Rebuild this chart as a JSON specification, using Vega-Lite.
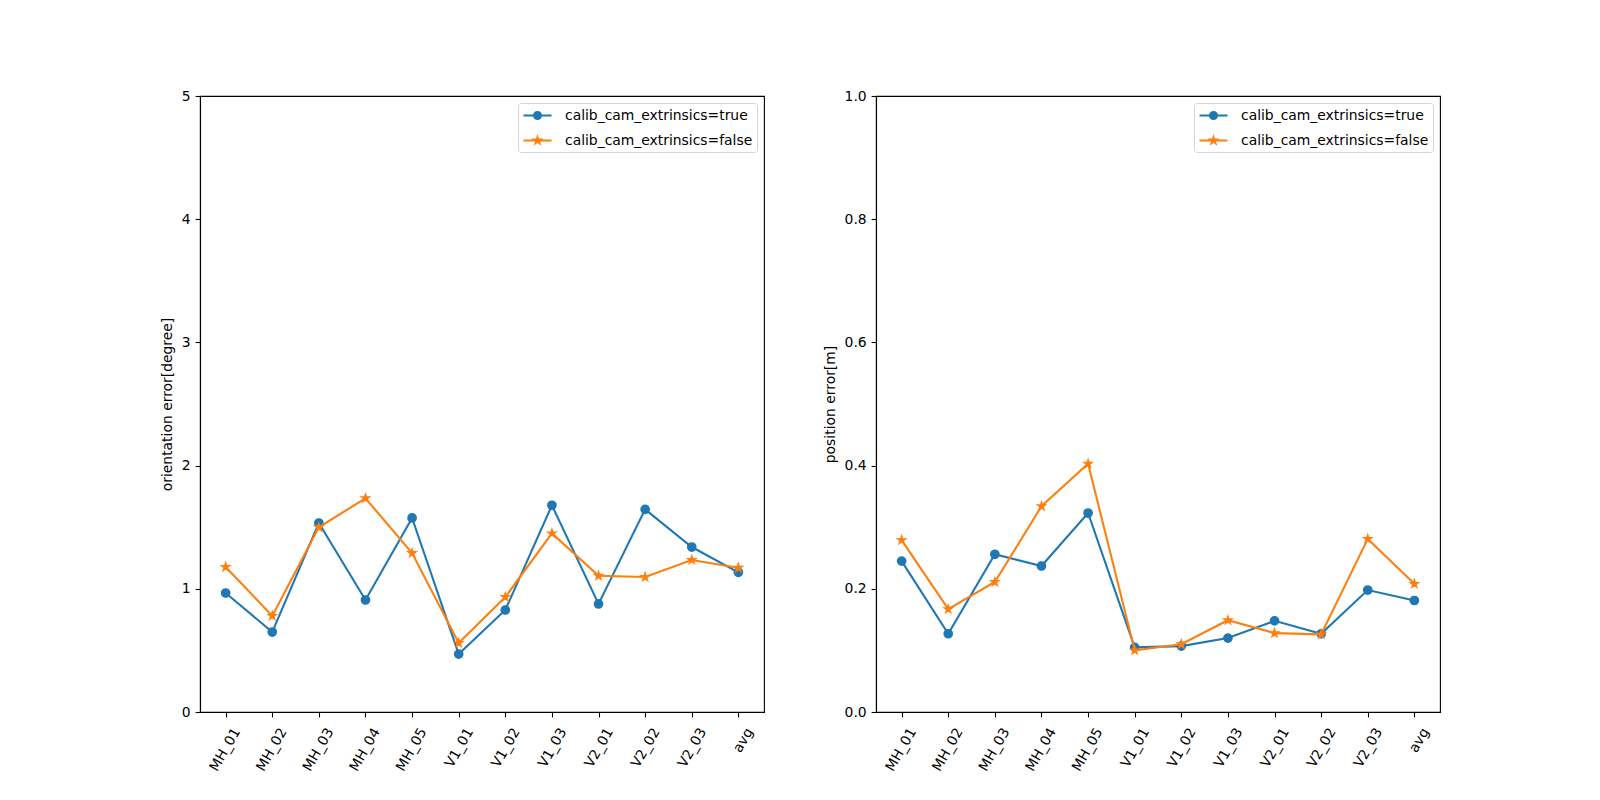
{
  "$schema": "https://vega.github.io/schema/vega-lite/v6.json",
  "autosize": {"type": "none"},
  "padding": {"left": 200, "top": 96, "right": 1400, "bottom": 88},
  "background": "white",
  "datasets": {
    "err": [
      {"seq": "MH_01", "series": "calib_cam_extrinsics=true", "orientation": 0.966, "position": 0.245},
      {"seq": "MH_02", "series": "calib_cam_extrinsics=true", "orientation": 0.649, "position": 0.127},
      {"seq": "MH_03", "series": "calib_cam_extrinsics=true", "orientation": 1.534, "position": 0.256},
      {"seq": "MH_04", "series": "calib_cam_extrinsics=true", "orientation": 0.909, "position": 0.237},
      {"seq": "MH_05", "series": "calib_cam_extrinsics=true", "orientation": 1.575, "position": 0.323},
      {"seq": "V1_01", "series": "calib_cam_extrinsics=true", "orientation": 0.470, "position": 0.105},
      {"seq": "V1_02", "series": "calib_cam_extrinsics=true", "orientation": 0.828, "position": 0.107},
      {"seq": "V1_03", "series": "calib_cam_extrinsics=true", "orientation": 1.678, "position": 0.120},
      {"seq": "V2_01", "series": "calib_cam_extrinsics=true", "orientation": 0.877, "position": 0.148},
      {"seq": "V2_02", "series": "calib_cam_extrinsics=true", "orientation": 1.645, "position": 0.127},
      {"seq": "V2_03", "series": "calib_cam_extrinsics=true", "orientation": 1.339, "position": 0.198},
      {"seq": "avg", "series": "calib_cam_extrinsics=true", "orientation": 1.134, "position": 0.181},
      {"seq": "MH_01", "series": "calib_cam_extrinsics=false", "orientation": 1.177, "position": 0.279},
      {"seq": "MH_02", "series": "calib_cam_extrinsics=false", "orientation": 0.780, "position": 0.167},
      {"seq": "MH_03", "series": "calib_cam_extrinsics=false", "orientation": 1.499, "position": 0.211},
      {"seq": "MH_04", "series": "calib_cam_extrinsics=false", "orientation": 1.735, "position": 0.334},
      {"seq": "MH_05", "series": "calib_cam_extrinsics=false", "orientation": 1.290, "position": 0.403},
      {"seq": "V1_01", "series": "calib_cam_extrinsics=false", "orientation": 0.560, "position": 0.100},
      {"seq": "V1_02", "series": "calib_cam_extrinsics=false", "orientation": 0.933, "position": 0.110},
      {"seq": "V1_03", "series": "calib_cam_extrinsics=false", "orientation": 1.450, "position": 0.149},
      {"seq": "V2_01", "series": "calib_cam_extrinsics=false", "orientation": 1.106, "position": 0.128},
      {"seq": "V2_02", "series": "calib_cam_extrinsics=false", "orientation": 1.096, "position": 0.126},
      {"seq": "V2_03", "series": "calib_cam_extrinsics=false", "orientation": 1.234, "position": 0.281},
      {"seq": "avg", "series": "calib_cam_extrinsics=false", "orientation": 1.171, "position": 0.208}
    ]
  },
  "data": {"name": "err"},
  "hconcat": [
    {
      "width": 564,
      "height": 616,
      "encoding": {
        "x": {"field": "seq", "type": "nominal", "sort": null, "title": null,
              "scale": {"type": "point", "padding": 0.55}},
        "y": {"field": "orientation", "type": "quantitative", "title": "orientation error[degree]",
              "scale": {"domain": [0, 5], "nice": false, "zero": true},
              "axis": {"values": [0, 1, 2, 3, 4, 5], "format": "d"}},
        "color": {"field": "series", "type": "nominal",
                  "scale": {"domain": ["calib_cam_extrinsics=true", "calib_cam_extrinsics=false"], "range": ["#1f77b4", "#ff7f0e"]},
                  "legend": {
                    "title": null, "orient": "top-right", "offset": 7, "padding": 4,
                    "strokeColor": "#d6d6d6", "fillColor": "white", "cornerRadius": 3,
                    "symbolSize": 196, "symbolOffset": 7, "labelOffset": 19, "rowPadding": 8,
                    "labelFont": "DejaVu Sans", "labelFontSize": 13.9, "labelColor": "black", "labelLimit": 400,
                    "encode": {"symbols": {"update": {
                      "shape": {"signal": "datum.value == 'calib_cam_extrinsics=true' ? 'M-2,0H2M0.5,0A0.5,0.5,0,1,1,-0.5,0A0.5,0.5,0,1,1,0.5,0Z' : 'M-2,0H2M0,-0.45L-0.101,-0.139L-0.428,-0.139L-0.163,0.053L-0.265,0.364L0,0.172L0.265,0.364L0.163,0.053L0.428,-0.139L0.101,-0.139Z'"},
                      "fill": {"signal": "datum.value == 'calib_cam_extrinsics=true' ? '#1f77b4' : '#ff7f0e'"},
                      "stroke": {"signal": "datum.value == 'calib_cam_extrinsics=true' ? '#1f77b4' : '#ff7f0e'"},
                      "strokeWidth": {"value": 2.08},
                      "opacity": {"value": 1}
                    }}}
                  }}
      },
      "layer": [
        {
          "transform": [{"filter": "datum.series == 'calib_cam_extrinsics=true'"}],
          "mark": {"type": "line", "strokeWidth": 2.08}
        },
        {
          "transform": [{"filter": "datum.series == 'calib_cam_extrinsics=true'"}],
          "mark": {"type": "point", "filled": true, "size": 69, "strokeWidth": 1.4, "opacity": 1, "shape": "circle", "fill": "#1f77b4", "stroke": "#1f77b4"}
        },
        {
          "transform": [{"filter": "datum.series == 'calib_cam_extrinsics=false'"}],
          "mark": {"type": "line", "strokeWidth": 2.08}
        },
        {
          "transform": [{"filter": "datum.series == 'calib_cam_extrinsics=false'"}],
          "mark": {"type": "point", "filled": true, "size": 69, "strokeWidth": 1.4, "opacity": 1, "fill": "#ff7f0e", "stroke": "#ff7f0e",
                   "shape": "M0,-1L-0.2245,-0.309L-0.951,-0.309L-0.363,0.118L-0.588,0.809L0,0.382L0.588,0.809L0.363,0.118L0.951,-0.309L0.2245,-0.309Z"}
        }
      ]
    },
    {
      "width": 564,
      "height": 616,
      "encoding": {
        "x": {"field": "seq", "type": "nominal", "sort": null, "title": null,
              "scale": {"type": "point", "padding": 0.55}},
        "y": {"field": "position", "type": "quantitative", "title": "position error[m]",
              "scale": {"domain": [0, 1], "nice": false, "zero": true},
              "axis": {"values": [0, 0.2, 0.4, 0.6, 0.8, 1.0], "format": ".1f"}},
        "color": {"field": "series", "type": "nominal",
                  "scale": {"domain": ["calib_cam_extrinsics=true", "calib_cam_extrinsics=false"], "range": ["#1f77b4", "#ff7f0e"]},
                  "legend": {
                    "title": null, "orient": "top-right", "offset": 7, "padding": 4,
                    "strokeColor": "#d6d6d6", "fillColor": "white", "cornerRadius": 3,
                    "symbolSize": 196, "symbolOffset": 7, "labelOffset": 19, "rowPadding": 8,
                    "labelFont": "DejaVu Sans", "labelFontSize": 13.9, "labelColor": "black", "labelLimit": 400,
                    "encode": {"symbols": {"update": {
                      "shape": {"signal": "datum.value == 'calib_cam_extrinsics=true' ? 'M-2,0H2M0.5,0A0.5,0.5,0,1,1,-0.5,0A0.5,0.5,0,1,1,0.5,0Z' : 'M-2,0H2M0,-0.45L-0.101,-0.139L-0.428,-0.139L-0.163,0.053L-0.265,0.364L0,0.172L0.265,0.364L0.163,0.053L0.428,-0.139L0.101,-0.139Z'"},
                      "fill": {"signal": "datum.value == 'calib_cam_extrinsics=true' ? '#1f77b4' : '#ff7f0e'"},
                      "stroke": {"signal": "datum.value == 'calib_cam_extrinsics=true' ? '#1f77b4' : '#ff7f0e'"},
                      "strokeWidth": {"value": 2.08},
                      "opacity": {"value": 1}
                    }}}
                  }}
      },
      "layer": [
        {
          "transform": [{"filter": "datum.series == 'calib_cam_extrinsics=true'"}],
          "mark": {"type": "line", "strokeWidth": 2.08}
        },
        {
          "transform": [{"filter": "datum.series == 'calib_cam_extrinsics=true'"}],
          "mark": {"type": "point", "filled": true, "size": 69, "strokeWidth": 1.4, "opacity": 1, "shape": "circle", "fill": "#1f77b4", "stroke": "#1f77b4"}
        },
        {
          "transform": [{"filter": "datum.series == 'calib_cam_extrinsics=false'"}],
          "mark": {"type": "line", "strokeWidth": 2.08}
        },
        {
          "transform": [{"filter": "datum.series == 'calib_cam_extrinsics=false'"}],
          "mark": {"type": "point", "filled": true, "size": 69, "strokeWidth": 1.4, "opacity": 1, "fill": "#ff7f0e", "stroke": "#ff7f0e",
                   "shape": "M0,-1L-0.2245,-0.309L-0.951,-0.309L-0.363,0.118L-0.588,0.809L0,0.382L0.588,0.809L0.363,0.118L0.951,-0.309L0.2245,-0.309Z"}
        }
      ]
    }
  ],
  "spacing": 112,
  "bounds": "flush",
  "resolve": {
    "scale": {"color": "independent", "x": "independent", "y": "independent"},
    "legend": {"color": "independent"}
  },
  "config": {
    "font": "DejaVu Sans",
    "view": {"stroke": "black", "strokeWidth": 1.1},
    "axis": {
      "domainColor": "black", "domainWidth": 1.1,
      "tickColor": "black", "tickWidth": 1.1, "tickSize": 4.9,
      "labelFont": "DejaVu Sans", "labelFontSize": 13.9, "labelColor": "black", "labelPadding": 4.9,
      "titleFont": "DejaVu Sans", "titleFontSize": 13.9, "titleFontWeight": "normal", "titleColor": "black",
      "grid": false, "labelOverlap": false
    },
    "axisX": {"labelAngle": -60, "labelAlign": "right", "labelBaseline": "middle", "labelPadding": 12, "labelOffset": 11},
    "axisY": {"titlePadding": 7}
  }
}
